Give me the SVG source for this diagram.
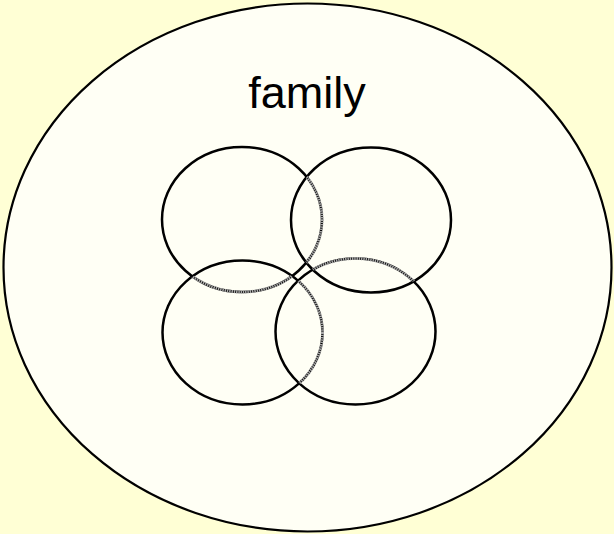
<svg xmlns="http://www.w3.org/2000/svg" width="614" height="534" viewBox="0 0 614 534">
  <style>
    .ring { fill: none; stroke: #000; stroke-width: 2.5; }
    .under { fill: none; stroke: #a8a8a8; stroke-width: 3; stroke-dasharray: 1.5 0.8; }
    .label { font-family: "Liberation Sans", Arial, sans-serif; font-size: 45px; fill: #000; }
  </style>
  <defs>
    <clipPath id="inTR"><ellipse cx="371" cy="220" rx="80" ry="72.5"/></clipPath>
    <clipPath id="inBL"><ellipse cx="242.5" cy="332.5" rx="80" ry="72"/></clipPath>
    <clipPath id="inBR"><ellipse cx="355.5" cy="331.5" rx="80" ry="73"/></clipPath>
  </defs>
  <rect x="0" y="0" width="614" height="534" fill="#FFFFD5"/>
  <g id="family">
    <ellipse cx="307.5" cy="267.5" rx="304" ry="264" fill="#FFFFF5" stroke="#000" stroke-width="2.2"/>
    <text class="label" x="307" y="108" text-anchor="middle">family</text>
  </g>
  <g id="member-top-left">
    <ellipse class="ring" cx="242" cy="219.5" rx="80" ry="72.5"/>
  </g>
  <g id="member-top-right">
    <ellipse class="ring" cx="371" cy="220" rx="80" ry="72.5"/>
  </g>
  <g id="member-bottom-left">
    <ellipse class="ring" cx="242.5" cy="332.5" rx="80" ry="72"/>
  </g>
  <g id="member-bottom-right">
    <ellipse class="ring" cx="355.5" cy="331.5" rx="80" ry="73"/>
  </g>
  <g id="overlaps">
    <ellipse class="under" cx="242" cy="219.5" rx="80" ry="72.5" clip-path="url(#inTR)"/>
    <ellipse class="under" cx="242" cy="219.5" rx="80" ry="72.5" clip-path="url(#inBL)"/>
    <ellipse class="under" cx="355.5" cy="331.5" rx="80" ry="73" clip-path="url(#inTR)"/>
    <ellipse class="under" cx="242.5" cy="332.5" rx="80" ry="72" clip-path="url(#inBR)"/>
  </g>
</svg>
